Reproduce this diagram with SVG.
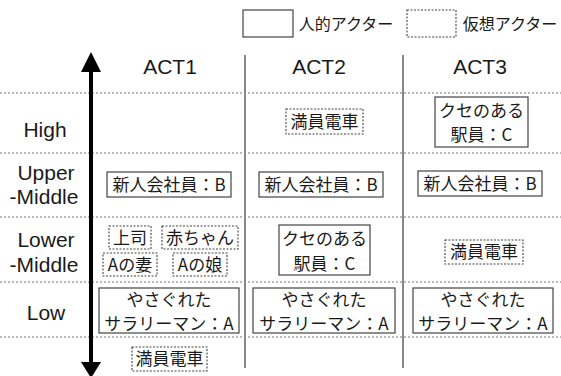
<svg xmlns="http://www.w3.org/2000/svg" width="561" height="376" viewBox="0 0 561 376">
<style>
.jp{font-family:"Noto Sans CJK JP","Noto Sans CJK SC",sans-serif;font-size:17px;fill:#1a1a1a;text-anchor:middle}
.lat{font-family:"Liberation Sans",Arial,sans-serif;font-size:21px;fill:#1a1a1a;text-anchor:middle}
.solid{fill:#fff;stroke:#444;stroke-width:1.2}
.virt{fill:#fff;stroke:#444;stroke-width:1.1;stroke-dasharray:2 1.5}
.hline{stroke:#777;stroke-width:1;stroke-dasharray:2 2;fill:none}
.vline{stroke:#888;stroke-width:2;fill:none}
</style>
<rect width="561" height="376" fill="#fff"/>
<g id="legend">
<rect class="solid" x="243" y="10" width="50" height="27"/>
<text class="jp" x="346" y="30" style="font-size:16px">人的アクター</text>
<rect class="virt" x="407" y="10" width="49" height="27"/>
<text class="jp" x="510" y="30" style="font-size:16px">仮想アクター</text>
</g>
<g id="grid">
<line class="hline" x1="0" y1="93" x2="561" y2="93"/>
<line class="hline" x1="0" y1="153" x2="561" y2="153"/>
<line class="hline" x1="0" y1="217" x2="561" y2="217"/>
<line class="hline" x1="0" y1="282" x2="561" y2="282"/>
<line class="hline" x1="0" y1="337" x2="561" y2="337"/>
<line class="vline" x1="245" y1="55" x2="245" y2="368"/>
<line class="vline" x1="403" y1="55" x2="403" y2="368"/>
</g>
<g id="axis">
<line x1="91" y1="70" x2="91" y2="364" stroke="#000" stroke-width="4"/>
<polygon points="91,52 81,72 101,72" fill="#000"/>
<polygon points="91,378 81,362 101,362" fill="#000"/>
</g>
<g id="headers">
<text class="lat" x="170" y="74">ACT1</text>
<text class="lat" x="319" y="74">ACT2</text>
<text class="lat" x="480" y="74">ACT3</text>
</g>
<g id="rows">
<text class="lat" x="45" y="137">High</text>
<text class="lat" x="46" y="180">Upper</text>
<text class="lat" x="44" y="204">-Middle</text>
<text class="lat" x="46" y="247">Lower</text>
<text class="lat" x="44" y="272">-Middle</text>
<text class="lat" x="46" y="320">Low</text>
</g>
<g id="act2-high-train">
<rect class="virt" x="286" y="109" width="77" height="25"/>
<text class="jp" x="324.5" y="128">満員電車</text>
</g>
<g id="act3-high-staff">
<rect class="solid" x="435" y="97" width="93" height="50"/>
<text class="jp" x="481.5" y="117">クセのある</text>
<text class="jp" x="481.5" y="141">駅員：C</text>
</g>
<g id="act1-b">
<rect class="solid" x="107" y="172" width="124" height="25"/>
<text class="jp" x="169" y="191">新人会社員：B</text>
</g>
<g id="act2-b">
<rect class="solid" x="259" y="172" width="124" height="25"/>
<text class="jp" x="321" y="191">新人会社員：B</text>
</g>
<g id="act3-b">
<rect class="solid" x="418" y="171" width="124" height="25"/>
<text class="jp" x="480" y="190">新人会社員：B</text>
</g>
<g id="act1-boss">
<rect class="virt" x="109" y="226" width="42" height="23"/>
<text class="jp" x="130" y="244">上司</text>
</g>
<g id="act1-baby">
<rect class="virt" x="162" y="226" width="76" height="23"/>
<text class="jp" x="200" y="244">赤ちゃん</text>
</g>
<g id="act1-wife">
<rect class="virt" x="103" y="253" width="54" height="23"/>
<text class="jp" x="130" y="271">Aの妻</text>
</g>
<g id="act1-daughter">
<rect class="virt" x="173" y="253" width="54" height="23"/>
<text class="jp" x="200" y="271">Aの娘</text>
</g>
<g id="act2-lm-staff">
<rect class="solid" x="279" y="225" width="91" height="50"/>
<text class="jp" x="324.5" y="245">クセのある</text>
<text class="jp" x="324.5" y="270">駅員：C</text>
</g>
<g id="act3-lm-train">
<rect class="virt" x="445" y="240" width="78" height="24"/>
<text class="jp" x="484" y="258">満員電車</text>
</g>
<g id="act1-a">
<rect class="solid" x="99" y="288" width="140" height="45"/>
<text class="jp" x="169" y="306">やさぐれた</text>
<text class="jp" x="169" y="330">サラリーマン：A</text>
</g>
<g id="act2-a">
<rect class="solid" x="253" y="288" width="142" height="45"/>
<text class="jp" x="324" y="306">やさぐれた</text>
<text class="jp" x="324" y="330">サラリーマン：A</text>
</g>
<g id="act3-a">
<rect class="solid" x="413" y="288" width="140" height="45"/>
<text class="jp" x="483" y="306">やさぐれた</text>
<text class="jp" x="483" y="330">サラリーマン：A</text>
</g>
<g id="act1-low-train">
<rect class="virt" x="132" y="347" width="75" height="24"/>
<text class="jp" x="169.5" y="365">満員電車</text>
</g>
</svg>
